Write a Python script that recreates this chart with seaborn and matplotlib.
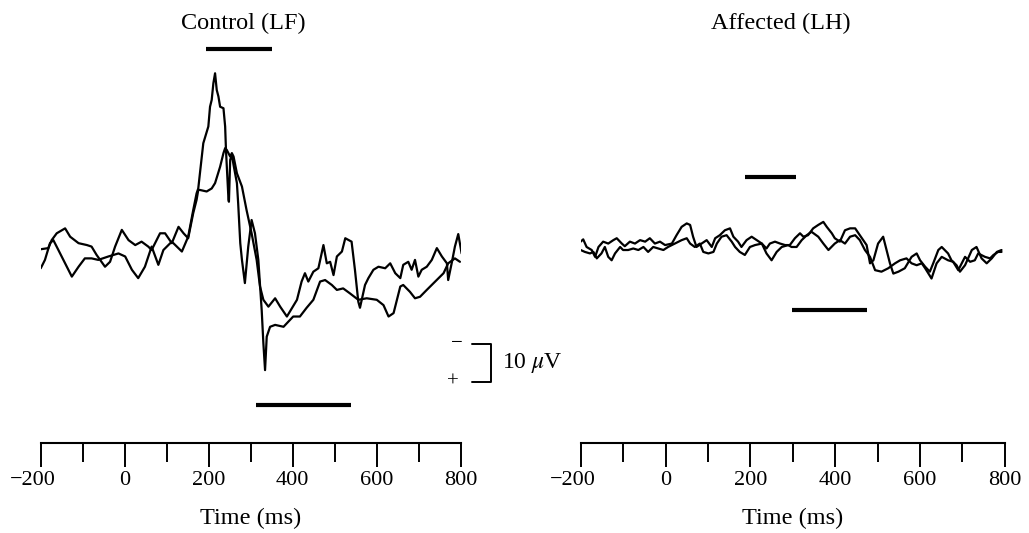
import numpy as np
import pandas as pd
import matplotlib
matplotlib.use("Agg")
import matplotlib.pyplot as plt
import matplotlib.transforms as mtransforms
import seaborn as sns

# ---------------- data (time in ms, amplitude in microvolts, negative up) -------------
ctrl_t1 = [-200, -190, -178, -170, -158, -142, -126, -110, -95, -79, -63, -39, -15, 1, 17, 32,
           48, 64, 80, 92, 112, 136, 151, 163, 171, 175, 179, 187, 199, 203, 207, 211, 215,
           219, 223, 227, 235, 239, 241, 243, 247, 248, 251, 255, 259, 267, 270, 275, 279,
           286, 294, 302, 310, 318, 326, 330, 334, 338, 346, 358, 378, 401, 417, 433, 449,
           465, 477, 493, 505, 520, 536, 556, 576, 600, 616, 628, 640, 656, 663, 679, 691,
           703, 719, 739, 759, 770, 786, 798]
ctrl_v1 = [3.5, 1.3, -3.1, -3.9, -1.3, 2.2, 5.7, 3.1, 0.9, 0.9, 1.3, 0.4, -0.4, 0.4, 3.9, 6.1,
           3.1, -2.2, 2.6, -1.3, -3.5, -0.9, -4.8, -11.8, -16.2, -17.5, -21.5, -29.4, -33.8,
           -39.0, -40.8, -45.2, -47.8, -43.4, -41.7, -39.0, -38.6, -33.8, -27.6, -23.2, -14.5,
           -14.0, -25.0, -26.3, -23.7, -18.9, -13.6, -3.1, 1.3, 7.4, -2.2, -9.2, -5.7, 1.3,
           14.5, 23.2, 30.3, 21.5, 18.9, 18.4, 18.9, 16.2, 16.2, 13.9, 11.8, 7.0, 6.6, 7.9,
           9.2, 8.8, 10.1, 11.8, 11.4, 11.8, 13.2, 16.2, 15.3, 8.3, 7.9, 9.7, 11.4, 11.0, 9.2,
           7.0, 4.8, 2.2, 0.9, 1.8]

ctrl_t2 = [-200, -182, -174, -162, -142, -130, -110, -90, -79, -67, -47, -35, -23, -7, 9, 25,
           40, 56, 64, 84, 96, 112, 128, 140, 151, 163, 171, 175, 179, 195, 207, 215, 227,
           235, 239, 243, 251, 255, 259, 267, 279, 290, 302, 314, 322, 330, 342, 358, 370,
           386, 410, 421, 429, 437, 449, 461, 473, 481, 489, 497, 505, 517, 525, 540, 548,
           556, 560, 572, 580, 592, 604, 620, 632, 644, 656, 663, 675, 683, 691, 699, 707,
           719, 731, 743, 755, 767, 770, 779, 786, 794, 802]
ctrl_v2 = [-1.5, -1.8, -3.9, -5.7, -7.0, -4.8, -3.1, -2.6, -2.2, 0.0, 3.1, 1.8, -2.2, -6.6,
           -3.9, -2.6, -3.5, -2.2, -1.3, -5.7, -5.7, -3.1, -7.4, -5.7, -4.4, -11.0, -14.5,
           -17.1, -17.1, -16.7, -17.5, -18.9, -23.2, -26.8, -28.1, -27.6, -25.9, -26.8, -25.9,
           -21.5, -18.0, -11.8, -5.7, 1.3, 8.3, 11.8, 13.6, 11.4, 13.6, 16.2, 11.8, 7.0, 4.8,
           7.0, 4.4, 3.5, -2.6, 2.2, 1.8, 5.3, 0.4, -0.9, -4.4, -3.5, 3.9, 12.3, 13.9, 7.9,
           6.1, 3.9, 3.1, 3.5, 2.2, 4.8, 6.1, 2.6, 1.8, 3.9, 1.3, 5.7, 3.9, 3.1, 1.3, -1.8,
           0.4, 2.2, 6.6, 1.8, -2.2, -5.5, -0.4]

aff_t1 = [-200, -194, -186, -174, -166, -158, -147, -135, -123, -115, -103, -96, -84, -72,
          -60, -48, -37, -25, -13, -1, 15, 26, 38, 50, 58, 65, 73, 85, 97, 109, 117, 128,
          140, 152, 160, 171, 179, 191, 203, 215, 227, 238, 246, 258, 270, 282, 293, 305,
          317, 325, 336, 348, 360, 372, 380, 392, 399, 411, 423, 435, 447, 458, 466, 474,
          482, 490, 501, 513, 521, 529, 537, 549, 564, 580, 592, 600, 612, 623, 631, 643,
          651, 666, 674, 686, 694, 706, 722, 733, 745, 757, 769, 781, 792]
aff_v1 = [-1.7, -2.3, -0.3, 0.5, 2.3, -0.3, -1.7, -1.2, -2.1, -2.6, -1.2, -0.5, -1.7, -1.2,
          -2.1, -1.7, -2.6, -1.2, -1.7, -0.8, -1.2, -3.4, -5.6, -6.5, -6.1, -3.0, -0.3, -1.2,
          -2.1, -0.3, -2.6, -3.4, -4.7, -5.2, -3.0, -1.7, -0.3, -2.1, -3.0, -2.1, -1.2, 0.1,
          -1.2, -1.7, -1.2, -0.8, -0.8, -2.6, -3.9, -3.0, -3.4, -5.2, -6.1, -6.9, -5.6, -3.9,
          -2.6, -1.7, -4.7, -5.2, -5.2, -3.4, -2.1, -0.8, 4.0, 3.2, -1.2, -3.0, 0.5, 4.0,
          6.7, 6.2, 5.3, 2.3, 1.4, 3.2, 4.9, 6.2, 4.0, 0.5, -0.3, 1.4, 3.2, 4.5, 6.2, 4.5,
          0.5, -0.3, 2.7, 4.0, 2.7, 1.0, 0.5]

aff_t2 = [-200, -190, -178, -170, -162, -151, -143, -135, -127, -119, -107, -100, -88, -76,
          -64, -52, -41, -29, -17, -5, 6, 22, 38, 50, 58, 69, 81, 89, 101, 113, 121, 132,
          144, 156, 164, 175, 187, 199, 211, 227, 238, 250, 262, 274, 289, 297, 309, 321,
          333, 344, 360, 372, 384, 399, 411, 423, 435, 447, 458, 470, 482, 494, 509, 525,
          541, 553, 568, 580, 592, 604, 612, 627, 639, 651, 666, 678, 690, 706, 718, 729,
          737, 753, 765, 773, 784, 792]
aff_v2 = [0.5, 1.0, 1.4, 1.0, 2.7, 1.4, -0.3, 2.3, 3.2, 1.4, -0.3, 0.5, 0.5, 0.1, 0.5, -0.3,
          1.0, -0.3, 0.1, 0.5, -0.3, -1.2, -2.1, -2.6, -1.2, -0.3, -1.2, 1.0, 1.4, 1.0, -1.2,
          -3.0, -3.4, -1.7, -0.3, 1.0, 1.8, -0.3, -0.8, -1.2, 1.4, 3.2, 1.0, -0.3, -0.8,
          -0.3, -0.3, -2.1, -3.4, -4.3, -3.0, -1.2, 0.5, -1.2, -2.1, -1.2, -3.0, -3.4, -2.1,
          0.5, 2.3, 5.8, 6.2, 5.3, 4.0, 3.2, 2.7, 4.0, 4.5, 4.0, 5.3, 8.0, 4.0, 2.3, 3.2,
          3.6, 5.8, 2.3, 3.6, 3.2, 1.4, 2.3, 2.7, 1.8, 1.0, 1.0]

major_ticks = [-200, 0, 200, 400, 600, 800]
minor_ticks = [-100, 100, 300, 500, 700]
panel_titles = ["Control (LF)", "Affected (LH)"]
x_label = "Time (ms)"
ctrl_windows = [(193, 350), (313, 539)]   # upper and lower latency bars (ms)
aff_windows = [(187, 307), (299, 476)]
scale_uv = 10

# ---------------- build frames ----------------
def frame(t1, v1, t2, v2):
    return pd.concat([
        pd.DataFrame({"time": t1, "uv": v1, "trial": "1"}),
        pd.DataFrame({"time": t2, "uv": v2, "trial": "2"}),
    ], ignore_index=True)

df_ctrl = frame(ctrl_t1, ctrl_v1, ctrl_t2, ctrl_v2)
df_aff = frame(aff_t1, aff_v1, aff_t2, aff_v2)

# ---------------- style ----------------
sns.set_theme(style="white")
plt.rcParams["font.family"] = ["Liberation Serif", "DejaVu Serif"]
plt.rcParams["mathtext.fontset"] = "stix"
plt.rcParams["text.color"] = "black"
plt.rcParams["axes.labelcolor"] = "black"
plt.rcParams["xtick.color"] = "black"

fig = plt.figure(figsize=(10.29, 5.33), dpi=100)
ax1 = fig.add_axes([0.0396, 0.1694, 0.4082, 0.7744])
ax2 = fig.add_axes([0.5643, 0.1694, 0.4123, 0.7744])

pal = {"1": "black", "2": "black"}
for ax, df, ylim in [(ax1, df_ctrl, (49.4, -59.2)), (ax2, df_aff, (51.2, -57.4))]:
    sns.lineplot(data=df, x="time", y="uv", hue="trial", units="trial", estimator=None,
                 sort=False, palette=pal, linewidth=1.6, legend=False, ax=ax)
    ax.set_xlim(-200, 800)
    ax.set_ylim(*ylim)
    for s in ["left", "top", "right"]:
        ax.spines[s].set_visible(False)
    ax.spines["bottom"].set_linewidth(1.5)
    ax.spines["bottom"].set_color("black")
    ax.set_yticks([])
    ax.set_ylabel("")
    ax.set_xticks(major_ticks)
    ax.set_xticklabels([str(v).replace("-", "\u2212") for v in major_ticks])
    ax.set_xticks(minor_ticks, minor=True)
    ax.tick_params(axis="x", which="major", direction="out", length=17.5, width=1.4,
                   color="black", pad=3, labelsize=16, labelcolor="black", bottom=True)
    ax.tick_params(axis="x", which="minor", direction="out", length=14, width=1.4,
                   color="black", bottom=True)
    ax.set_xlabel(x_label, fontsize=17.5, color="black")
    ax.xaxis.set_label_coords(0.5, -0.1825)
    ax.xaxis.label.set_va("center")
    ax.grid(False)
    # the long minus pushes the first label left in the original
    lab = ax.get_xticklabels()[0]
    lab.set_transform(lab.get_transform() +
                      mtransforms.ScaledTranslation(-8 / 100, 0, fig.dpi_scale_trans))

# latency bars
ax1.plot(ctrl_windows[0], [-54.2, -54.2], color="black", lw=3, solid_capstyle="butt")
ax1.plot(ctrl_windows[1], [39.5, 39.5], color="black", lw=3, solid_capstyle="butt")
ax2.plot(aff_windows[0], [-18.8, -18.8], color="black", lw=3, solid_capstyle="butt")
ax2.plot(aff_windows[1], [16.3, 16.3], color="black", lw=3, solid_capstyle="butt")

# calibration bar (10 uV, negative up)
y0, y1 = 23.4, 23.4 + scale_uv
ax1.plot([826, 872, 872, 826], [y0, y0, y1, y1], color="black", lw=1.4, clip_on=False)
ax1.text(790, y0, "\u2212", ha="center", va="center", fontsize=15, clip_on=False)
ax1.text(782, y1, "+", ha="center", va="center", fontsize=15, clip_on=False)
ax1.text(897, (y0 + y1) / 2, "10 $\\mu$V", ha="left", va="center", fontsize=17, clip_on=False)

# titles
fig.text(243 / 1029, 1 - 23 / 533, panel_titles[0], ha="center", va="center", fontsize=17.5)
fig.text(781 / 1029, 1 - 23 / 533, panel_titles[1], ha="center", va="center", fontsize=17.5)

fig.savefig("out.png", dpi=100, facecolor="white")
